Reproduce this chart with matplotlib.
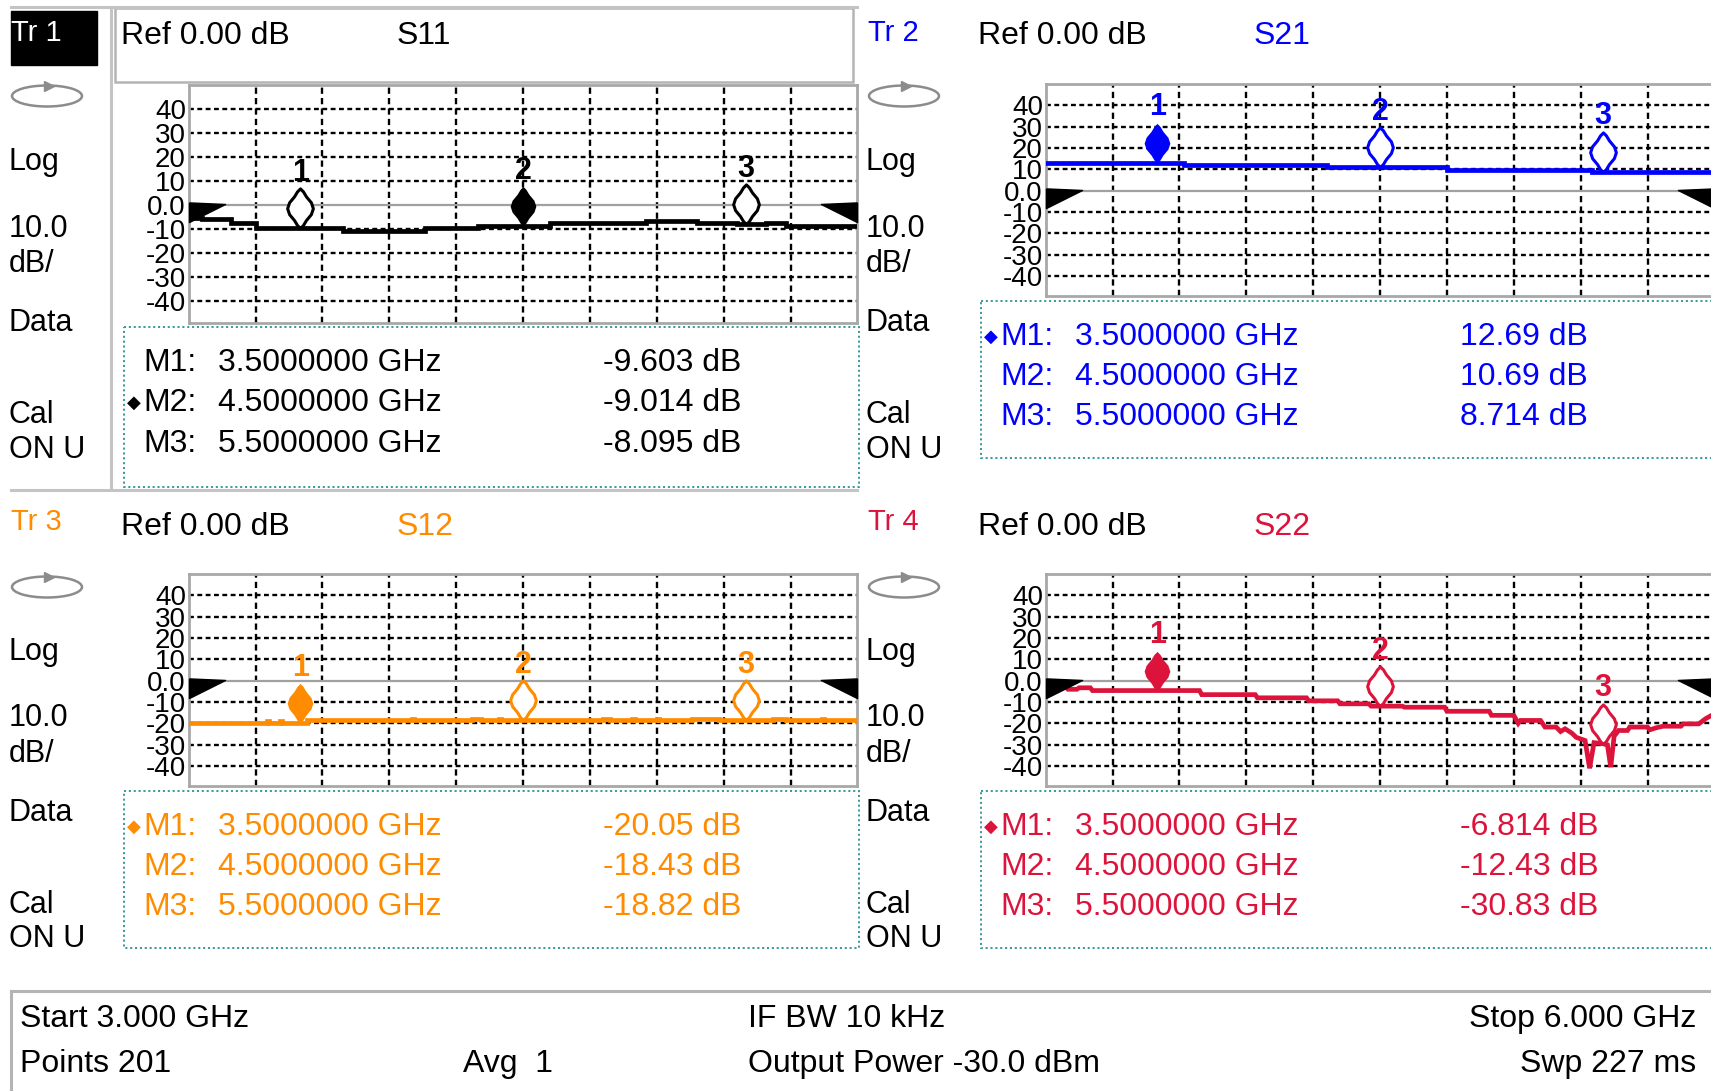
import numpy as np
import matplotlib.pyplot as plt
from matplotlib.patches import Rectangle, Ellipse

plt.rcParams['font.family'] = ['Liberation Sans', 'DejaVu Sans']
plt.rcParams['lines.scale_dashes'] = False

W, H = 1711, 1091

# sweep / scale
f_start, f_stop = 3.0, 6.0
db_ticks = [40, 30, 20, 10, 0, -10, -20, -30, -40]
db_tick_labels = ['40', '30', '20', '10', '0.0', '-10', '-20', '-30', '-40']
marker_freqs = [3.5, 4.5, 5.5]

# S11 (drawn as steps)
s11_f = [3.00, 3.06, 3.19, 3.30, 3.69, 4.06, 4.30, 4.62, 5.05, 5.28, 5.46, 5.59, 5.68, 6.00]
s11_db = [-5.6, -6.0, -7.4, -9.6, -10.9, -9.8, -9.0, -7.5, -6.7, -7.5, -8.1, -7.5, -8.7, -8.7]
s11_mk = [-9.603, -9.014, -8.095]

# S21
s21_f = [3.00, 3.62, 4.26, 4.80, 5.45, 6.00]
s21_db = [13.2, 12.2, 10.9, 9.7, 8.9, 8.9]
s21_mk = [12.69, 10.69, 8.714]

# S12
s12_f = [3.00, 3.35, 3.36, 3.41, 3.42, 3.53, 4.00, 4.01, 4.27, 4.31, 4.39, 4.40, 4.86,
         4.89, 4.99, 5.00, 5.10, 5.11, 5.26, 5.38, 5.62, 5.68, 5.84, 5.85, 6.00]
s12_db = [-19.8, -19.0, -19.8, -19.0, -19.8, -18.5, -17.8, -18.5, -17.8, -18.5, -17.8, -18.5, -17.9,
          -18.5, -17.9, -18.5, -17.8, -18.5, -17.9, -18.5, -17.9, -18.5, -17.9, -18.5, -18.5]
s12_mk = [-20.05, -18.43, -18.82]

# S22
s22_f = [3.00, 3.09, 3.10, 3.14, 3.15, 3.20, 3.21, 3.69, 3.70, 3.94, 3.95, 4.17, 4.18, 4.31, 4.32,
         4.45, 4.46, 4.60, 4.61, 4.79, 4.80, 4.99, 5.00, 5.10, 5.12, 5.13, 5.22, 5.24, 5.29, 5.31,
         5.33, 5.36, 5.38, 5.42, 5.44, 5.46, 5.50, 5.52, 5.535, 5.55, 5.57, 5.61, 5.62, 5.70, 5.71,
         5.74, 5.77, 5.85, 5.86, 5.93, 5.96, 6.00]
s22_db = [-3.0, -3.0, -4.0, -4.0, -3.3, -3.3, -4.6, -4.6, -6.5, -6.5, -8.0, -8.0, -9.4, -9.4, -10.8,
          -10.8, -11.9, -11.9, -12.4, -12.4, -14.3, -14.3, -16.2, -16.2, -20.0, -18.6, -18.6, -21.7, -21.7, -23.8,
          -22.5, -24.5, -26.5, -28.0, -41.0, -29.0, -29.5, -30.0, -40.5, -26.0, -23.3, -23.3, -21.7, -21.7, -23.0,
          -22.0, -21.3, -21.3, -20.2, -20.2, -17.8, -15.5]
s22_mk = [-6.814, -12.43, -30.83]

# status bar
status_left = ['Start 3.000 GHz', 'Points 201']
status_mid = ['IF BW 10 kHz', 'Output Power -30.0 dBm']
status_right = ['Stop 6.000 GHz', 'Swp 227 ms']
avg_text = 'Avg  1'

# marker glyph (tip at the trace point) and reference arrows
lens = [(0, 0), (3, 3), (6, 8), (11, 14), (13, 20), (11, 26), (6, 32), (3, 37), (0, 40),
        (-3, 37), (-6, 32), (-11, 26), (-13, 20), (-11, 14), (-6, 8), (-3, 3), (0, 0)]
ref_left = [(0, 2.6), (36, 1), (0, -17), (0, 2.6)]
ref_right = [(0, 2.6), (-36, 1), (0, -17), (0, 2.6)]

fig = plt.figure(figsize=(W / 100, H / 100), dpi=100)
bg = fig.add_axes([0, 0, 1, 1])
bg.set_xlim(0, W)
bg.set_ylim(H, 0)
bg.axis('off')


def px_axes(l, t, r, b):
    return fig.add_axes([l / W, 1 - b / H, (r - l) / W, (b - t) / H])


def value_at(f, db, fm, steps):
    if steps:
        i = np.searchsorted(f, fm, side='right') - 1
        return db[i]
    return np.interp(fm, f, db)


def draw_panel(dx, box, tbl, rows, ylab, ring_y, head_y, tr_name, param, color,
               f, db, steps, mk, active):
    l, t, r, b = box
    ax = px_axes(l + dx, t, r + dx, b)
    ax.set_xlim(f_start, f_stop)
    ax.set_ylim(-49.3, 50)
    for s in ax.spines.values():
        s.set_color('#a8a8a8')
        s.set_linewidth(2)
    ax.set_xticks([])
    ax.set_yticks(db_ticks)
    ax.set_yticklabels(db_tick_labels, fontsize=20,
                       family=['Liberation Sans Narrow', 'Liberation Sans'])
    ax.tick_params(axis='y', length=0, pad=2)
    for v in np.linspace(f_start, f_stop, 11)[1:-1]:
        ax.axvline(v, color='black', lw=1.7, ls=(0, (4.5, 3)), zorder=1)
    for v in db_ticks:
        if v == 0:
            ax.axhline(0, color='#a0a0a0', lw=1.6, zorder=1)
        else:
            ax.axhline(v, color='black', lw=1.7, ls=(0, (3.5, 2.5)), zorder=1)

    ax.plot(f, db, color=color, lw=3.4, drawstyle='steps-post' if steps else 'default',
            zorder=3, solid_joinstyle='miter')

    ax.plot(f_start, 0, marker=ref_left, ms=52, color='black', clip_on=False, zorder=5)
    ax.plot(f_stop, 0, marker=ref_right, ms=52, color='black', clip_on=False, zorder=5)

    for i, fm in enumerate(marker_freqs):
        y = value_at(f, db, fm, steps)
        if i == active:
            ax.plot(fm, y, marker=lens, ms=57, color=color, mew=0, zorder=4)
        else:
            ax.plot(fm, y, marker=lens, ms=57, mfc='white', mec=color, mew=2.2, zorder=4)
        ax.annotate(str(i + 1), (fm, y), xytext=(0, 29), textcoords='offset points',
                    ha='center', va='bottom', fontsize=22, fontweight='bold', color=color,
                    zorder=6, annotation_clip=False)

    # header line
    bg.text(11 + dx, head_y[0], tr_name, fontsize=21, va='center', ha='left',
            color='white' if param == 'S11' else color)
    bg.text(121 + dx, head_y[1], 'Ref 0.00 dB', fontsize=23, va='center', ha='left', color='black')
    bg.text(397 + dx, head_y[1], param, fontsize=23, va='center', ha='left', color=color)

    # left column
    bg.add_patch(Ellipse((47 + dx, ring_y), 70, 21, fill=False, ec='#8c8c8c', lw=1.8))
    bg.plot(49 + dx, ring_y - 10.5, marker='>', ms=7, color='#8c8c8c')
    for txt, yy in zip(['Log', '10.0', 'dB/', 'Data', 'Cal', 'ON U'], ylab):
        bg.text(9 + dx, yy, txt, fontsize=22, va='center', ha='left', color='black')

    # marker table
    tl, tt, tr, tb = tbl
    bg.add_patch(Rectangle((tl + dx, tt), tr - tl, tb - tt, fill=False, ec='#3a9a9a',
                           lw=1.4, ls=(0, (1.5, 2))))
    for i, yy in enumerate(rows):
        if i == active:
            bg.text(134 + dx, yy, '\u25c6', fontsize=13, va='center', ha='center',
                    color=color, family='DejaVu Sans')
        bg.text(143 + dx, yy, 'M%d:' % (i + 1), fontsize=23, va='center', ha='left', color=color)
        bg.text(218 + dx, yy, '%.7f GHz' % marker_freqs[i], fontsize=23, va='center',
                ha='left', color=color)
        bg.text(603 + dx, yy, '%s dB' % format(mk[i], '.4g'), fontsize=23, va='center',
                ha='left', color=color)
    return ax


c_s11, c_s21, c_s12, c_s22 = 'black', '#0000ff', '#ff8c00', '#dc143c'
top_lab = [162, 229, 264, 323, 415, 450]
bot_lab = [652, 718, 754, 813, 905, 939]

# Tr1 (active trace) frame
bg.add_patch(Rectangle((11, 11), 86, 54, color='black'))
bg.plot([11, 857], [7, 7], color='#c4c4c4', lw=2.2)
bg.plot([111, 111], [7, 490], color='#c4c4c4', lw=2.2)
bg.plot([11, 857], [490, 490], color='#c4c4c4', lw=2.2)
bg.add_patch(Rectangle((115, 8), 738, 74, fill=False, ec='#b4b4b4', lw=1.8))

draw_panel(0, (188.7, 85, 857.4, 323), (124, 327, 859, 487), [363, 403, 444], top_lab, 96,
           (33, 36), 'Tr 1', 'S11', c_s11, s11_f, s11_db, True, s11_mk, 1)
draw_panel(857, (188.7, 84, 857.4, 296), (124, 301, 859, 458), [337, 377, 417], top_lab, 96,
           (33, 36), 'Tr 2', 'S21', c_s21, s21_f, s21_db, True, s21_mk, 0)
draw_panel(0, (188.7, 574, 857.4, 786), (124, 791, 859, 948), [827, 867, 907], bot_lab, 587,
           (522, 527), 'Tr 3', 'S12', c_s12, s12_f, s12_db, True, s12_mk, 0)
draw_panel(857, (188.7, 574, 857.4, 786), (124, 791, 859, 948), [827, 867, 907], bot_lab, 587,
           (522, 527), 'Tr 4', 'S22', c_s22, s22_f, s22_db, False, s22_mk, 0)

# status bar
bg.plot([11, W], [991, 991], color='#b4b4b4', lw=2.2)
bg.plot([11, 11], [991, H], color='#b4b4b4', lw=2.2)
for txt, yy in zip(status_left, [1019, 1064]):
    bg.text(20, yy, txt, fontsize=23, va='center', ha='left')
for txt, yy in zip(status_mid, [1019, 1064]):
    bg.text(748, yy, txt, fontsize=23, va='center', ha='left')
for txt, yy in zip(status_right, [1019, 1064]):
    bg.text(1696, yy, txt, fontsize=23, va='center', ha='right')
bg.text(463, 1064, avg_text, fontsize=23, va='center', ha='left')

fig.savefig('out.png', dpi=100)
